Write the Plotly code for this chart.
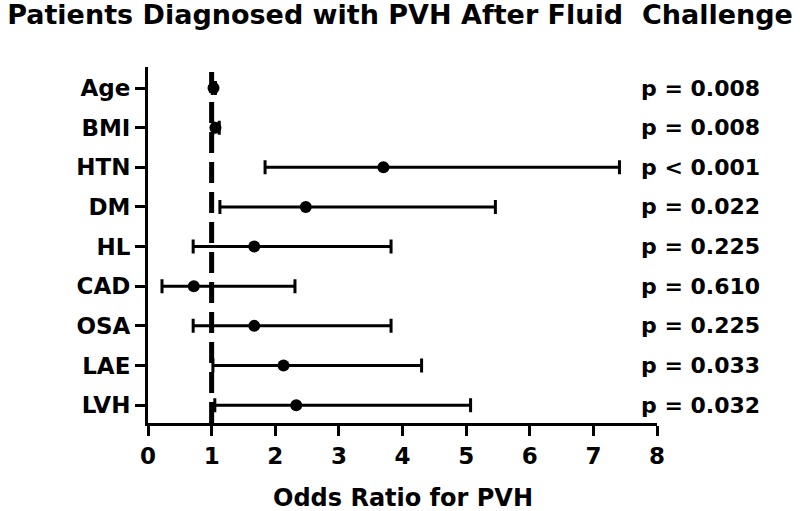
import plotly.graph_objects as go

categories = ["Age", "BMI", "HTN", "DM", "HL", "CAD", "OSA", "LAE", "LVH"]
odds_ratio = [1.03, 1.06, 3.70, 2.48, 1.67, 0.72, 1.67, 2.13, 2.33]
ci_lower = [1.01, 1.02, 1.84, 1.13, 0.71, 0.22, 0.71, 1.02, 1.05]
ci_upper = [1.06, 1.12, 7.41, 5.46, 3.82, 2.31, 3.82, 4.30, 5.07]
p_labels = ["p = 0.008", "p = 0.008", "p < 0.001", "p = 0.022", "p = 0.225",
            "p = 0.610", "p = 0.225", "p = 0.033", "p = 0.032"]
x_ticks = [0, 1, 2, 3, 4, 5, 6, 7, 8]

n = len(categories)
ypos = [n - 1 - i for i in range(n)]

FONT = "DejaVu Sans, Liberation Sans, Arial, sans-serif"

fig = go.Figure()

# reference line at OR = 1
fig.add_trace(go.Scatter(
    x=[1, 1], y=[-0.45, n - 1 + 0.53], mode="lines",
    line=dict(color="black", width=5, dash="21px,9px"),
    hoverinfo="skip", showlegend=False, cliponaxis=False))

fig.add_trace(go.Scatter(
    x=odds_ratio, y=ypos, mode="markers",
    marker=dict(color="black", size=12, symbol="circle"),
    error_x=dict(type="data", symmetric=False,
                 array=[u - o for u, o in zip(ci_upper, odds_ratio)],
                 arrayminus=[o - l for o, l in zip(odds_ratio, ci_lower)],
                 color="black", thickness=3, width=7),
    showlegend=False))

for y, lab in zip(ypos, p_labels):
    fig.add_annotation(x=1.0, xref="paper", xshift=-18, y=y, yref="y",
                       text=f"<b>{lab}</b>", showarrow=False, xanchor="left",
                       font=dict(family=FONT, size=22, color="black"))

fig.add_annotation(x=0.5, xref="paper", y=0, yref="paper", yshift=-75,
                   text="<b>Odds Ratio for PVH</b>", showarrow=False,
                   xanchor="center", yanchor="middle",
                   font=dict(family=FONT, size=24, color="black"))

fig.update_layout(
    width=800, height=511,
    plot_bgcolor="white", paper_bgcolor="white",
    margin=dict(l=148, r=143, t=67, b=88),
    font=dict(family=FONT, color="black"),
    title=dict(text="<b>Patients Diagnosed with PVH After Fluid&nbsp;&nbsp;Challenge</b>",
               x=0.5, xanchor="center", y=0.972, yanchor="middle",
               font=dict(family=FONT, size=27, color="black")),
)

fig.update_xaxes(
    range=[0, 8], tickvals=x_ticks, ticktext=[f"<b>{t}</b>" for t in x_ticks],
    showline=True, linecolor="black", linewidth=3,
    ticks="outside", ticklen=10, tickwidth=3, tickcolor="black",
    showgrid=False, zeroline=False, automargin=False,
    tickfont=dict(family=FONT, size=23, color="black"))

fig.update_yaxes(
    range=[-0.45, n - 1 + 0.53], tickvals=ypos,
    ticktext=[f"<b>{c}</b>" for c in categories],
    showline=True, linecolor="black", linewidth=3,
    ticks="outside", ticklen=10, tickwidth=3, tickcolor="black",
    showgrid=False, zeroline=False, automargin=False,
    tickfont=dict(family=FONT, size=23, color="black"))

fig.write_html("out.html", config={"displayModeBar": False},
               post_script="document.body.style.margin='0';")
